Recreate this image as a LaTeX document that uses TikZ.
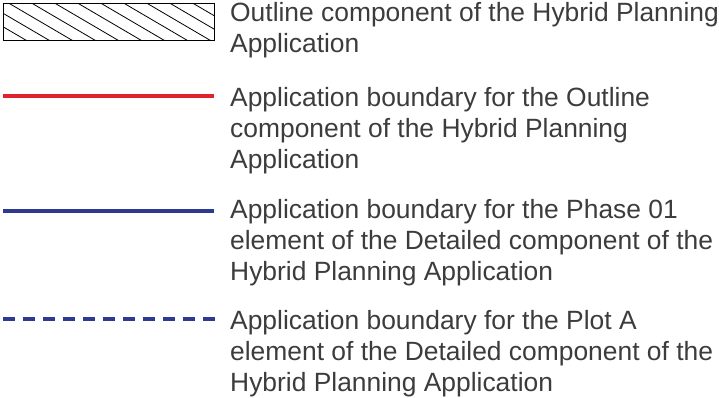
\documentclass[tikz,border=0pt]{standalone}
\usepackage{fontspec}
\setmainfont{Liberation Sans}
\usepackage{xcolor}
\definecolor{outlinered}{RGB}{222, 35, 45}
\definecolor{phaseblue}{RGB}{46, 58, 146}
\definecolor{legendtext}{RGB}{60, 60, 60}
\usetikzlibrary{positioning}

\begin{document}
\begin{tikzpicture}[
  x=1pt, y=-1pt,
  legendtxt/.style={anchor=north west, inner sep=0pt, align=left, text=legendtext, font=\fontsize{26.4}{31}\selectfont},
  keyline/.style={line width=3.8pt},
  hatchline/.style={line width=0.8pt, color=black}
]
\useasboundingbox (0,0) rectangle (719,397);

% hatched key
\coordinate (hatch-nw) at (3,3);
\coordinate (hatch-se) at (214,40.5);
\begin{scope}
  \clip (hatch-nw) rectangle (hatch-se);
  \foreach \i in {-3,...,9}
    \draw[hatchline] (8.5+\i*23,3) -- ++(64,37.5);
\end{scope}
\draw[line width=0.9pt] (hatch-nw) rectangle (hatch-se);

% line keys
\coordinate (red-a) at (3,96);
\coordinate (red-b) at (214,96);
\coordinate (blue-a) at (3,210.7);
\coordinate (blue-b) at (214,210.7);
\coordinate (plot-a) at (3,319);
\coordinate (plot-b) at (215,319);
\draw[keyline, outlinered] (red-a) -- (red-b);
\draw[keyline, phaseblue] (blue-a) -- (blue-b);
\draw[keyline, phaseblue, dash pattern=on 12pt off 8pt] (plot-a) -- (plot-b);

% texts
\node[legendtxt] (outline) at (230,2) {Outline component of the Hybrid Planning\\Application};
\node[legendtxt] (redtxt) at (230,87.5) {Application boundary for the Outline\\component of the Hybrid Planning\\Application};
\node[legendtxt] (bluetxt) at (230,199) {Application boundary for the Phase 01\\element of the Detailed component of the\\Hybrid Planning Application};
\node[legendtxt] (plottxt) at (230,310) {Application boundary for the Plot A\\element of the Detailed component of the\\Hybrid Planning Application};
\end{tikzpicture}
\end{document}
